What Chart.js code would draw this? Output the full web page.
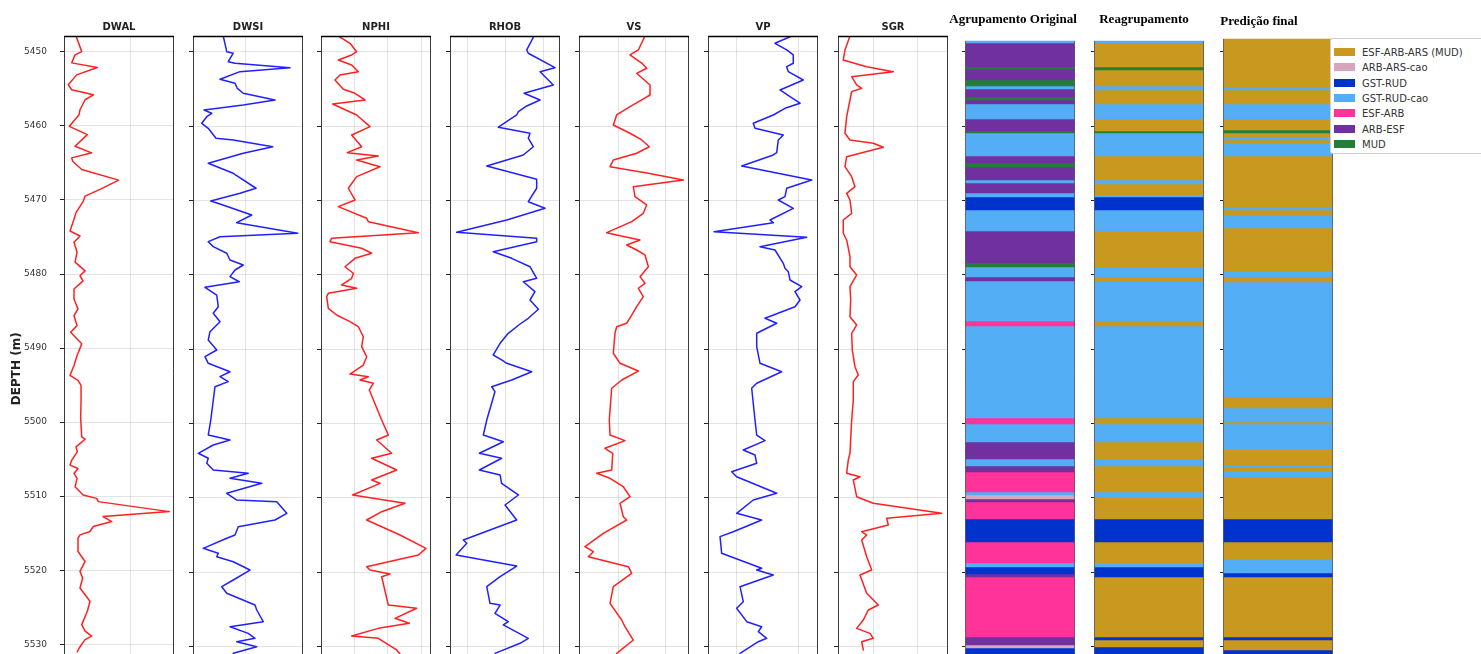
<!DOCTYPE html>
<html><head><meta charset="utf-8">
<script src="https://cdn.jsdelivr.net/npm/chart.js@4.4.0/dist/chart.umd.min.js"></script>
<style>
html,body{margin:0;padding:0;background:#fff;overflow:hidden;}
#wrap{position:relative;width:1481px;height:654px;overflow:hidden;background:#fff;}
#wrap canvas{position:absolute;top:0;}
.legend{position:absolute;left:1330px;top:38px;width:175px;height:116px;border:1px solid #cfcfcf;border-radius:3px;background:#fff;box-sizing:border-box;font-family:'DejaVu Sans',sans-serif;font-size:10px;color:#333;}
.legend .row{position:absolute;left:3px;height:12px;line-height:12px;white-space:nowrap;}
.legend .sw{display:inline-block;width:21px;height:8px;vertical-align:middle;margin-right:7px;position:relative;top:-1px;}
</style>
</head><body>
<div id="wrap"><div class="legend" id="legend"></div></div>
<script>
// ---------- data ----------
const depthTicks = [5450, 5460, 5470, 5480, 5490, 5500, 5510, 5520, 5530];

const dwalDepth = [5447.85,5449.96,5450.40,5451.48,5452.11,5453.10,5454.44,5455.11,5455.79,5456.46,5457.81,5458.48,5460.05,5461.17,5462.75,5463.63,5464.31,5464.76,5465.88,5467.32,5468.57,5469.47,5470.15,5471.71,5472.61,5474.19,5474.86,5475.71,5477.05,5478.40,5479.57,5480.24,5480.92,5482.03,5483.38,5484.72,5485.63,5486.97,5487.86,5489.43,5491.01,5492.36,5493.70,5494.37,5495.05,5496.84,5499.53,5501.99,5502.31,5503.34,5504.01,5505.14,5505.81,5506.26,5506.93,5507.60,5508.72,5509.85,5510.30,5510.74,5512.09,5512.76,5513.43,5514.10,5514.78,5515.23,5515.68,5517.47,5518.82,5520.16,5521.06,5522.41,5524.20,5525.55,5527.35,5528.24,5528.91,5529.37,5530.48,5531.02];
const dwal = [0.009,0.0133,0.0083,0.0058,0.025,0.0095,0.0032,0.0058,0.022,0.0158,0.012,0.0113,0.004,0.0175,0.0083,0.0208,0.0058,0.0065,0.0133,0.041,0.027,0.0158,0.0145,0.009,0.0075,0.0045,0.012,0.0075,0.0098,0.0083,0.0158,0.012,0.0143,0.0075,0.0075,0.0105,0.0075,0.0098,0.005,0.0133,0.0098,0.0075,0.0045,0.0105,0.0128,0.0128,0.0125,0.0133,0.0158,0.009,0.01,0.0058,0.0045,0.0105,0.0075,0.0098,0.0083,0.0143,0.0245,0.0257,0.079,0.0293,0.0358,0.022,0.0195,0.012,0.0105,0.0105,0.0158,0.012,0.014,0.012,0.0195,0.0175,0.0133,0.0158,0.0208,0.0158,0.0115,0.01];

const dwsiDepth = [5447.85,5449.96,5450.17,5451.31,5451.52,5452.11,5452.65,5453.67,5454.21,5454.89,5455.56,5456.46,5457.13,5457.81,5458.25,5458.71,5459.60,5460.27,5461.61,5461.84,5462.75,5463.63,5464.98,5466.33,5468.34,5469.02,5470.05,5470.46,5471.94,5472.97,5474.40,5474.86,5475.53,5476.20,5477.09,5477.99,5478.67,5479.34,5480.24,5480.92,5481.67,5482.71,5484.28,5485.17,5486.30,5487.64,5488.76,5490.11,5491.01,5491.90,5493.03,5493.70,5494.37,5495.05,5499.53,5501.55,5502.22,5502.89,5504.01,5504.68,5505.36,5506.26,5506.70,5507.37,5508.05,5509.39,5510.30,5510.52,5512.09,5512.99,5513.89,5515.01,5515.45,5516.80,5517.47,5517.93,5518.60,5519.72,5521.06,5521.96,5522.85,5524.43,5525.10,5526.67,5527.35,5528.24,5528.91,5529.37,5530.04,5530.93];
const dwsi = [0.161,0.175,0.201,0.181,0.208,0.428,0.228,0.148,0.208,0.217,0.241,0.368,0.241,0.084,0.115,0.095,0.075,0.101,0.132,0.201,0.359,0.241,0.101,0.201,0.292,0.228,0.111,0.148,0.275,0.215,0.459,0.148,0.101,0.121,0.175,0.188,0.241,0.208,0.188,0.225,0.088,0.135,0.141,0.121,0.148,0.108,0.101,0.135,0.088,0.101,0.188,0.148,0.181,0.128,0.111,0.101,0.188,0.121,0.061,0.101,0.095,0.121,0.261,0.188,0.315,0.175,0.215,0.375,0.415,0.368,0.221,0.208,0.175,0.081,0.141,0.135,0.201,0.268,0.201,0.155,0.175,0.288,0.295,0.321,0.188,0.261,0.288,0.215,0.295,0.201];

const nphiDepth = [5447.85,5448.83,5449.96,5450.40,5451.08,5451.75,5452.65,5453.10,5453.77,5455.02,5455.56,5456.46,5457.00,5458.48,5460.05,5461.17,5462.75,5463.55,5464.00,5464.54,5465.44,5466.78,5468.34,5469.92,5470.82,5472.38,5472.84,5474.32,5475.07,5475.53,5476.42,5477.09,5477.77,5478.90,5479.78,5480.46,5481.36,5481.80,5482.48,5482.93,5484.50,5485.40,5486.30,5486.97,5488.32,5489.66,5491.01,5492.13,5493.34,5493.70,5494.15,5494.59,5495.49,5499.53,5501.55,5502.22,5504.01,5504.68,5506.26,5507.60,5508.05,5509.62,5510.74,5511.87,5512.99,5515.01,5516.80,5517.70,5519.27,5519.72,5520.26,5520.62,5524.43,5524.87,5526.22,5526.89,5527.57,5528.60,5528.91,5530.48,5531.02];
const nphi = [0.052,0.087,0.107,0.092,0.052,0.092,0.112,0.057,0.042,0.067,0.102,0.132,0.035,0.107,0.147,0.092,0.122,0.079,0.172,0.107,0.177,0.107,0.082,0.102,0.052,0.137,0.142,0.292,0.032,0.027,0.122,0.152,0.102,0.072,0.097,0.092,0.062,0.107,0.022,0.017,0.022,0.047,0.087,0.112,0.127,0.122,0.137,0.127,0.087,0.142,0.117,0.157,0.145,0.182,0.202,0.167,0.212,0.152,0.227,0.152,0.177,0.095,0.252,0.182,0.137,0.237,0.315,0.292,0.137,0.147,0.207,0.182,0.202,0.287,0.222,0.265,0.172,0.092,0.172,0.227,0.237];

const rhobDepth = [5447.85,5449.73,5450.17,5452.11,5452.65,5454.44,5455.56,5456.46,5457.27,5458.03,5458.48,5460.13,5460.94,5461.61,5462.75,5463.86,5465.34,5467.13,5468.34,5470.15,5471.04,5472.61,5474.27,5475.07,5475.53,5476.88,5477.77,5478.90,5480.46,5480.92,5482.26,5483.38,5484.63,5485.84,5486.61,5487.86,5489.21,5490.78,5491.45,5491.90,5493.03,5494.15,5495.05,5495.72,5499.53,5501.55,5502.45,5504.01,5504.68,5506.26,5506.93,5508.05,5509.62,5510.97,5512.99,5514.33,5515.68,5516.12,5517.70,5519.18,5520.62,5521.96,5524.20,5524.43,5525.55,5526.67,5527.11,5528.91,5529.58,5530.93];
const rhob = [2.551,2.513,2.521,2.661,2.583,2.652,2.499,2.583,2.513,2.469,2.460,2.364,2.530,2.521,2.547,2.495,2.303,2.565,2.565,2.521,2.609,2.408,2.145,2.565,2.565,2.337,2.434,2.530,2.565,2.495,2.556,2.530,2.574,2.521,2.478,2.416,2.373,2.337,2.381,2.408,2.539,2.434,2.329,2.346,2.303,2.285,2.390,2.264,2.381,2.264,2.373,2.381,2.469,2.399,2.460,2.320,2.180,2.198,2.142,2.460,2.373,2.303,2.320,2.373,2.346,2.416,2.390,2.521,2.478,2.346];

const vsDepth = [5447.85,5449.73,5450.40,5451.52,5452.19,5452.87,5454.44,5455.79,5456.46,5457.36,5458.48,5459.83,5460.94,5461.84,5462.75,5463.63,5464.54,5465.44,5466.33,5467.23,5468.13,5469.47,5470.59,5471.71,5472.84,5474.32,5474.63,5475.30,5475.98,5476.65,5477.32,5478.90,5480.24,5481.13,5481.80,5482.93,5484.28,5485.40,5486.51,5486.97,5487.86,5490.55,5491.90,5492.94,5494.15,5495.26,5499.53,5501.55,5502.31,5503.34,5504.01,5506.26,5506.70,5507.37,5508.51,5509.85,5510.74,5512.54,5512.99,5514.78,5516.58,5517.25,5517.93,5519.27,5520.16,5521.96,5524.20,5526.45,5527.35,5529.14,5530.93];
const vs = [2.778,2.707,2.618,2.746,2.796,2.689,2.832,2.832,2.743,2.618,2.475,2.439,2.618,2.743,2.824,2.689,2.439,2.404,2.814,3.188,2.653,2.671,2.796,2.760,2.636,2.368,2.475,2.725,2.582,2.689,2.778,2.814,2.725,2.778,2.707,2.760,2.689,2.636,2.582,2.475,2.457,2.439,2.511,2.707,2.529,2.422,2.396,2.404,2.564,2.350,2.433,2.422,2.261,2.404,2.546,2.618,2.511,2.546,2.582,2.332,2.136,2.225,2.172,2.600,2.636,2.439,2.404,2.529,2.564,2.653,2.475];

const vpDepth = [5447.85,5448.83,5449.73,5450.40,5451.52,5451.98,5452.65,5453.77,5455.11,5456.02,5456.90,5457.58,5458.48,5459.60,5460.27,5461.17,5461.84,5463.55,5463.86,5465.34,5467.23,5468.34,5469.47,5469.92,5471.04,5472.61,5472.97,5474.19,5474.94,5476.20,5476.65,5478.44,5479.11,5479.57,5480.69,5481.59,5482.26,5483.38,5484.28,5485.84,5486.51,5487.86,5489.66,5491.90,5493.03,5494.59,5495.26,5499.53,5501.55,5502.31,5503.56,5504.24,5505.36,5506.49,5507.16,5509.39,5510.30,5512.09,5512.99,5514.56,5515.23,5517.47,5519.49,5519.72,5520.39,5521.96,5523.98,5524.87,5526.67,5527.35,5528.02,5528.91,5529.37,5530.93];
const vp = [5.896,5.624,5.815,5.922,5.922,5.815,5.841,6.085,5.706,5.869,6.032,5.787,5.596,5.270,5.298,5.759,5.678,5.652,5.596,5.081,6.222,5.815,5.787,5.678,5.922,5.543,5.596,4.630,6.141,5.380,5.624,5.759,5.787,5.841,5.869,6.059,5.950,6.032,5.950,5.461,5.652,5.326,5.326,5.380,5.733,5.326,5.244,5.298,5.326,5.461,5.107,5.298,5.326,4.918,4.999,5.652,5.270,4.999,5.407,4.944,4.728,4.755,5.407,5.326,5.596,5.054,5.107,4.999,5.163,5.407,5.352,5.489,5.352,5.054];

const sgrDepth = [5447.85,5449.73,5451.08,5451.98,5452.65,5453.32,5454.44,5454.89,5455.34,5456.46,5458.71,5460.94,5461.84,5462.29,5462.83,5463.63,5464.09,5465.44,5466.78,5468.13,5469.02,5469.92,5471.71,5472.61,5474.40,5475.30,5477.55,5478.90,5480.01,5481.59,5483.38,5485.63,5486.74,5487.86,5490.11,5492.36,5493.47,5494.37,5496.84,5499.53,5504.01,5504.91,5506.70,5507.16,5507.60,5509.85,5510.74,5512.09,5512.76,5513.66,5514.56,5515.01,5515.68,5517.93,5519.72,5520.39,5522.85,5524.43,5525.10,5526.45,5527.57,5528.24,5528.91,5529.37,5530.48];
const sgr = [23.9,18.3,16.4,42.6,72.4,25.8,31.4,37.0,25.8,23.9,20.2,18.3,23.9,50.0,61.2,35.1,20.2,18.3,25.8,29.5,20.2,23.9,25.8,16.4,16.4,20.2,23.9,23.9,31.4,23.9,24.7,23.9,31.4,25.8,26.5,29.5,33.2,27.6,27.6,25.8,23.9,22.0,20.2,35.1,27.6,31.4,50.0,126.5,65.0,66.8,37.0,42.6,37.0,42.6,48.2,35.1,42.6,55.6,44.4,38.8,31.4,46.3,50.0,37.0,38.8];

// facies: 0 ESF-ARB-ARS (MUD), 1 ARB-ARS-cao, 2 GST-RUD, 3 GST-RUD-cao, 4 ESF-ARB, 5 ARB-ESF, 6 MUD
const faciesNames = ['ESF-ARB-ARS (MUD)', 'ARB-ARS-cao', 'GST-RUD', 'GST-RUD-cao', 'ESF-ARB', 'ARB-ESF', 'MUD'];
const faciesColors = ['#C9981E', '#D6A6BE', '#0033CC', '#54AEF6', '#FF3399', '#7030A0', '#237F37'];

const origTops = [5448.52,5448.79,5452.02,5452.29,5453.77,5454.58,5454.98,5456.06,5456.46,5457.00,5459.02,5460.63,5460.90,5464.00,5464.94,5465.48,5467.23,5467.63,5468.98,5469.52,5471.27,5474.09,5478.40,5478.94,5480.28,5480.82,5486.20,5486.88,5499.26,5500.07,5502.49,5504.78,5505.72,5506.53,5509.22,5509.62,5510.16,5510.57,5512.85,5515.95,5518.78,5519.31,5520.26,5520.66,5528.73,5529.81,5530.21,5532];
const origFacies = [3,5,6,5,6,3,5,6,5,3,5,6,3,5,6,5,3,5,3,2,3,5,6,3,5,3,4,3,4,3,5,3,5,4,3,1,5,4,2,4,3,2,5,4,5,1,2];

const regTops = [5448.52,5448.79,5452.02,5452.42,5454.58,5455.11,5457.00,5459.02,5460.63,5460.90,5464.00,5467.23,5467.77,5469.25,5469.52,5471.27,5474.09,5478.94,5480.28,5480.82,5486.20,5486.88,5499.26,5500.07,5502.49,5504.78,5505.72,5509.22,5509.89,5512.85,5515.95,5518.78,5519.31,5520.66,5528.73,5529.14,5530.08,5532];
const regFacies = [3,0,6,0,3,0,3,0,6,3,0,3,0,3,2,3,0,3,0,3,0,3,0,3,0,3,0,3,0,2,0,3,2,0,2,0,2];

const predTops = [5448.25,5454.71,5455.11,5457.00,5459.02,5460.50,5460.90,5461.44,5461.84,5462.25,5464.00,5470.86,5471.27,5471.94,5473.69,5479.47,5480.28,5480.96,5496.43,5497.91,5499.80,5500.07,5503.43,5505.59,5505.85,5506.39,5507.20,5512.85,5515.95,5518.24,5520.12,5520.66,5528.73,5529.14,5530.48,5532];
const predFacies = [0,3,0,3,0,6,0,3,0,3,0,3,0,3,0,3,0,3,0,3,0,3,0,3,0,3,0,2,0,3,2,0,2,0,2];

// ---------- layout / style ----------
const H = 720, TOP = 36, BOTTOM = 704, W = 110;
const yMin = 5447.85, yMax = 5537.75;
const RED = '#ff2020', BLUE = '#2020ff';

const tracks = [
  {title:'DWAL', depth:dwalDepth, values:dwal, color:RED,  min:0,     max:0.0825, grid:[0.05],          left:64},
  {title:'DWSI', depth:dwsiDepth, values:dwsi, color:BLUE, min:0.04,  max:0.48,   grid:[0.25],          left:193},
  {title:'NPHI', depth:nphiDepth, values:nphi, color:RED,  min:0,     max:0.33,   grid:[0.1,0.2,0.3],   left:321},
  {title:'RHOB', depth:rhobDepth, values:rhob, color:BLUE, min:2.11,  max:2.6875, grid:[2.2,2.4,2.6],   left:450},
  {title:'VS',   depth:vsDepth,   values:vs,   color:RED,  min:2.072, max:3.249,  grid:[2.5,3.0],       left:579},
  {title:'VP',   depth:vpDepth,   values:vp,   color:BLUE, min:4.532, max:6.325,  grid:[5,6],           left:708},
  {title:'SGR',  depth:sgrDepth,  values:sgr,  color:RED,  min:10.5,  max:133.6,  grid:[50,100],        left:838}
];
const facies = [
  {title:'Agrupamento Original', tops:origTops, codes:origFacies, left:965,  titleX:1013, titleY:20},
  {title:'Reagrupamento',        tops:regTops,  codes:regFacies,  left:1094, titleX:1144, titleY:20},
  {title:'Predição final',       tops:predTops, codes:predFacies, left:1223, titleX:1259, titleY:22}
];

const wrap = document.getElementById('wrap');

const framePlugin = {
  id: 'frame',
  afterDraw(chart) {
    const {ctx, chartArea: a} = chart;
    ctx.save();
    ctx.strokeStyle = '#3a3a3a'; ctx.lineWidth = 1;
    ctx.beginPath();
    ctx.moveTo(a.left + 0.5, a.top); ctx.lineTo(a.left + 0.5, a.bottom);
    ctx.moveTo(a.right - 0.5, a.top); ctx.lineTo(a.right - 0.5, a.bottom);
    ctx.stroke();
    ctx.strokeStyle = '#000'; ctx.lineWidth = 1.6;
    ctx.beginPath(); ctx.moveTo(a.left, a.top + 0.5); ctx.lineTo(a.right, a.top + 0.5); ctx.stroke();
    ctx.restore();
  }
};
const panelTitle = {
  id: 'panelTitle',
  afterDraw(chart, args, opts) {
    if (!opts || !opts.text) return;
    const {ctx, chartArea: a} = chart;
    ctx.save();
    ctx.font = opts.font;
    ctx.fillStyle = opts.color || '#222';
    ctx.textAlign = 'center'; ctx.textBaseline = 'middle';
    const x = opts.x != null ? opts.x : (a.left + a.right) / 2;
    ctx.fillText(opts.text, x, opts.y);
    ctx.restore();
  }
};
const faciesEdges = {
  id: 'faciesEdges',
  afterDatasetsDraw(chart, args, opts) {
    const {ctx, chartArea: a, scales} = chart;
    const y0 = scales.y.getPixelForValue(opts.top);
    ctx.save();
    ctx.strokeStyle = 'rgba(90,90,90,0.8)'; ctx.lineWidth = 1;
    ctx.beginPath();
    ctx.moveTo(a.left + 0.5, y0); ctx.lineTo(a.left + 0.5, a.bottom);
    ctx.moveTo(a.right - 0.5, y0); ctx.lineTo(a.right - 0.5, a.bottom);
    ctx.stroke();
    ctx.restore();
  }
};

function addCanvas(left, width) {
  const c = document.createElement('canvas');
  c.width = width; c.height = H;
  c.style.left = left + 'px';
  c.style.width = width + 'px'; c.style.height = H + 'px';
  wrap.insertBefore(c, document.getElementById('legend'));
  return c;
}

function depthScale(padL, showLabels, extra) {
  return Object.assign({
    type: 'linear', reverse: true, min: yMin, max: yMax,
    afterBuildTicks: s => { s.ticks = depthTicks.map(v => ({value: v})); },
    afterFit: s => { s.width = padL; },
    ticks: { display: showLabels, callback: v => String(v), font: {family: 'DejaVu Sans', size: 9}, color: '#333', padding: 13 },
    grid: { color: 'rgba(0,0,0,0.11)', tickColor: '#222', tickLength: 4, drawTicks: true },
    border: { display: false },
    title: { display: showLabels, text: 'DEPTH (m)', font: {family: 'DejaVu Sans', size: 12, weight: 'bold'}, color: '#222', padding: {top: 10, bottom: 0} }
  }, extra || {});
}

tracks.forEach((t, i) => {
  const padL = i === 0 ? 64 : 12, padR = 3;
  const c = addCanvas(t.left - padL, W + padL + padR);
  const n = Math.min(t.depth.length, t.values.length);
  const pts = [];
  for (let k = 0; k < n; k++) pts.push({x: t.values[k], y: t.depth[k]});
  new Chart(c, {
    type: 'scatter',
    data: { datasets: [{ data: pts, showLine: true, borderColor: t.color, borderWidth: 1.5, pointRadius: 0, pointHoverRadius: 0, tension: 0, fill: false, borderJoinStyle: 'round', borderCapStyle: 'round' }] },
    options: {
      responsive: false, animation: false, devicePixelRatio: 1,
      layout: { padding: { left: 0, right: padR, top: TOP, bottom: H - BOTTOM } },
      events: [],
      plugins: { legend: {display: false}, tooltip: {enabled: false},
        panelTitle: { text: t.title, y: 27, font: 'bold 10px "DejaVu Sans"', color: '#222' } },
      scales: {
        x: { type: 'linear', position: 'top', min: t.min, max: t.max,
          afterBuildTicks: s => { s.ticks = t.grid.map(v => ({value: v})); },
          afterFit: s => { s.height = 0; },
          ticks: { display: false }, grid: { color: 'rgba(0,0,0,0.11)', drawTicks: false }, border: { display: false } },
        y: depthScale(padL, i === 0)
      }
    },
    plugins: [framePlugin, panelTitle]
  });
});

facies.forEach(f => {
  const padL = 22, padR = 3;
  const canvasLeft = f.left - padL;
  const c = addCanvas(canvasLeft, W + padL + padR);
  const datasets = [];
  for (let k = 0; k < f.codes.length && k + 1 < f.tops.length; k++) {
    datasets.push({ data: [[f.tops[k], f.tops[k + 1]]], backgroundColor: faciesColors[f.codes[k]],
      borderWidth: 0, grouped: false, barPercentage: 1, categoryPercentage: 1 });
  }
  new Chart(c, {
    type: 'bar',
    data: { labels: [f.title], datasets },
    options: {
      responsive: false, animation: false, devicePixelRatio: 1, events: [],
      layout: { padding: { left: 0, right: padR, top: TOP, bottom: H - BOTTOM } },
      plugins: { legend: {display: false}, tooltip: {enabled: false},
        panelTitle: { text: f.title, x: f.titleX - canvasLeft, y: f.titleY, font: 'bold 13px "Liberation Serif"', color: '#000' },
        faciesEdges: { top: f.tops[0] } },
      scales: {
        x: { display: false },
        y: depthScale(padL, false, { z: 1, grid: { color: 'rgba(255,255,255,0.55)', tickColor: '#222', tickLength: 3 } })
      }
    },
    plugins: [faciesEdges, panelTitle]
  });
});

// legend
const lg = document.getElementById('legend');
faciesNames.forEach((name, i) => {
  const r = document.createElement('div');
  r.className = 'row';
  r.style.top = (7.7 + i * 15.4) + 'px';
  const sw = document.createElement('span');
  sw.className = 'sw'; sw.style.background = faciesColors[i];
  r.appendChild(sw);
  r.appendChild(document.createTextNode(name));
  lg.appendChild(r);
});
</script>
</body></html>
